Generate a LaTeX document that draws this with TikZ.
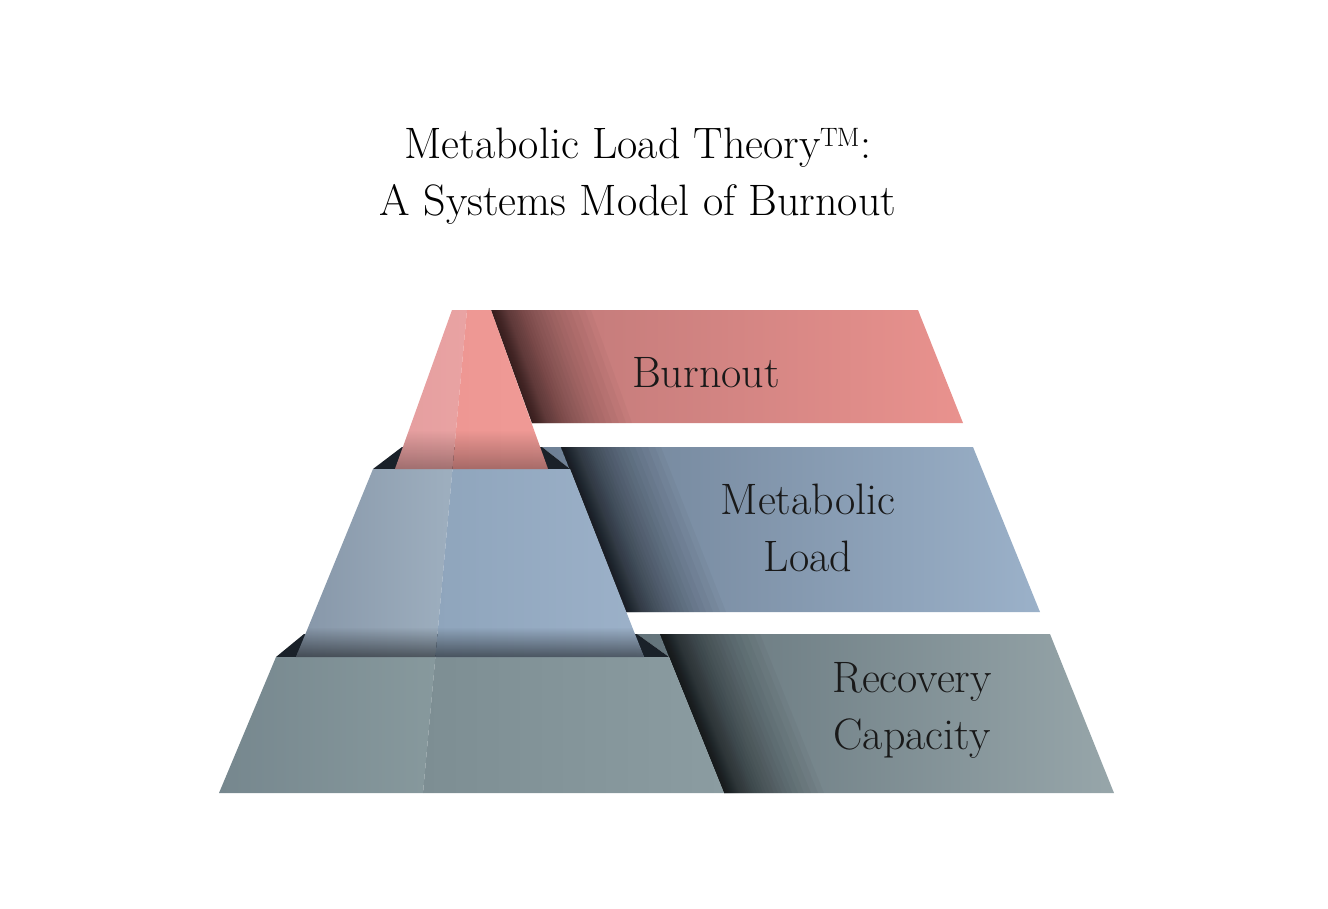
\documentclass[tikz,border=0pt]{standalone}
\usetikzlibrary{fadings}
\definecolor{burnL}{HTML}{BD7777}
\definecolor{burnR}{HTML}{E9928E}
\definecolor{loadL}{HTML}{6E8095}
\definecolor{loadR}{HTML}{9BB1C9}
\definecolor{recoL}{HTML}{63737A}
\definecolor{recoR}{HTML}{97A6AA}
\definecolor{faceDark}{HTML}{1A2129}
\definecolor{pinkA1}{HTML}{E59E9F}
\definecolor{pinkA2}{HTML}{E9A3A3}
\definecolor{pinkB1}{HTML}{EE9793}
\definecolor{pinkB2}{HTML}{EF9A96}
\definecolor{blueA1}{HTML}{8696A8}
\definecolor{blueA2}{HTML}{9EAFBF}
\definecolor{blueB1}{HTML}{8FA5BC}
\definecolor{blueB2}{HTML}{9CB1C9}
\definecolor{greyA1}{HTML}{76878E}
\definecolor{greyA2}{HTML}{87999D}
\definecolor{greyB1}{HTML}{7D8E93}
\definecolor{greyB2}{HTML}{8B9CA1}
\tikzfading[name=fadeup, top color=transparent!100, bottom color=transparent!0]
\def\shadelist{1,2,3,4,5,6,7,8,9,10,11,12,13,14,15,16,18,20,22,24,26,28,30,33,36,39,42,46,50,54,58,63,68,74,80,87,94,100}
\begin{document}
\begin{tikzpicture}[x=1pt,y=-1pt]
\tikzstyle{label}=[font=\fontsize{44}{57}\selectfont, text=black!90, align=center, inner sep=0pt]
\tikzstyle{topface}=[fill=faceDark]
\tikzstyle{shadow}=[fill=black, opacity=.03]
\useasboundingbox (0,0) rectangle (1328,908);

\node[label, text=black] (title) at (638,176) {Metabolic Load Theory™:\\A Systems Model of Burnout};

% bands
\shade[left color=burnL, right color=burnR] (491,310) -- (918,310) -- (963,423) -- (532,423) -- cycle;
\shade[left color=loadL, right color=loadR] (542,447) -- (973,447) -- (1040,612) -- (626,612) -- (570,469) -- cycle;
\shade[left color=recoL, right color=recoR] (637,634) -- (1050,634) -- (1114,793) -- (724,793) -- (669,657) -- cycle;

% shadows along the pyramid
\begin{scope}
\clip (491,310) -- (918,310) -- (963,423) -- (532,423) -- cycle;
\foreach \w in \shadelist \fill[shadow, opacity=.026] (491,310) -- (491+\w,310) -- (532+\w,423) -- (532,423) -- cycle;
\end{scope}
\begin{scope}
\clip (542,447) -- (973,447) -- (1040,612) -- (626,612) -- (570,469) -- cycle;
\foreach \w in \shadelist \fill[shadow] (561,447) -- (561+\w,447) -- (626+\w,612) -- (626,612) -- cycle;
\end{scope}
\begin{scope}
\clip (637,634) -- (1050,634) -- (1114,793) -- (724,793) -- (669,657) -- cycle;
\foreach \w in \shadelist \fill[shadow] (660,634) -- (660+\w,634) -- (724+\w,793) -- (724,793) -- cycle;
\end{scope}

% bottom tier
\fill[topface] (304,634) -- (637,634) -- (669,657) -- (276,657) -- cycle;
\shade[left color=greyA1, right color=greyA2] (276,657) -- (435.4,657) -- (423,793) -- (219,793) -- cycle;
\shade[left color=greyB1, right color=greyB2] (435.4,657) -- (669,657) -- (724,793) -- (423,793) -- cycle;

% middle tier
\fill[topface] (402,447) -- (542,447) -- (570,469) -- (373,469) -- cycle;
\shade[left color=blueA1, right color=blueA2] (373,469) -- (452.5,469) -- (435.4,657) -- (296,657) -- cycle;
\shade[left color=blueB1, right color=blueB2] (452.5,469) -- (570,469) -- (644,657) -- (435.4,657) -- cycle;
\fill[black, opacity=.5, path fading=fadeup] (308.3,627) -- (632.2,627) -- (644,657) -- (296,657) -- cycle;

% top tier
\shade[left color=pinkA1, right color=pinkA2] (452,310) -- (467,310) -- (452.5,469) -- (395,469) -- cycle;
\shade[left color=pinkB1, right color=pinkB2] (467,310) -- (491,310) -- (548,469) -- (452.5,469) -- cycle;
\fill[black, opacity=.3, path fading=fadeup] (409,430) -- (534,430) -- (548,469) -- (395,469) -- cycle;

\node[label, anchor=base] (burnout) at (706,387) {Burnout};
\node[label] (load) at (808,528) {Metabolic\\Load};
\node[label] (recovery) at (912,710) {Recovery\\Capacity};
\end{tikzpicture}
\end{document}
